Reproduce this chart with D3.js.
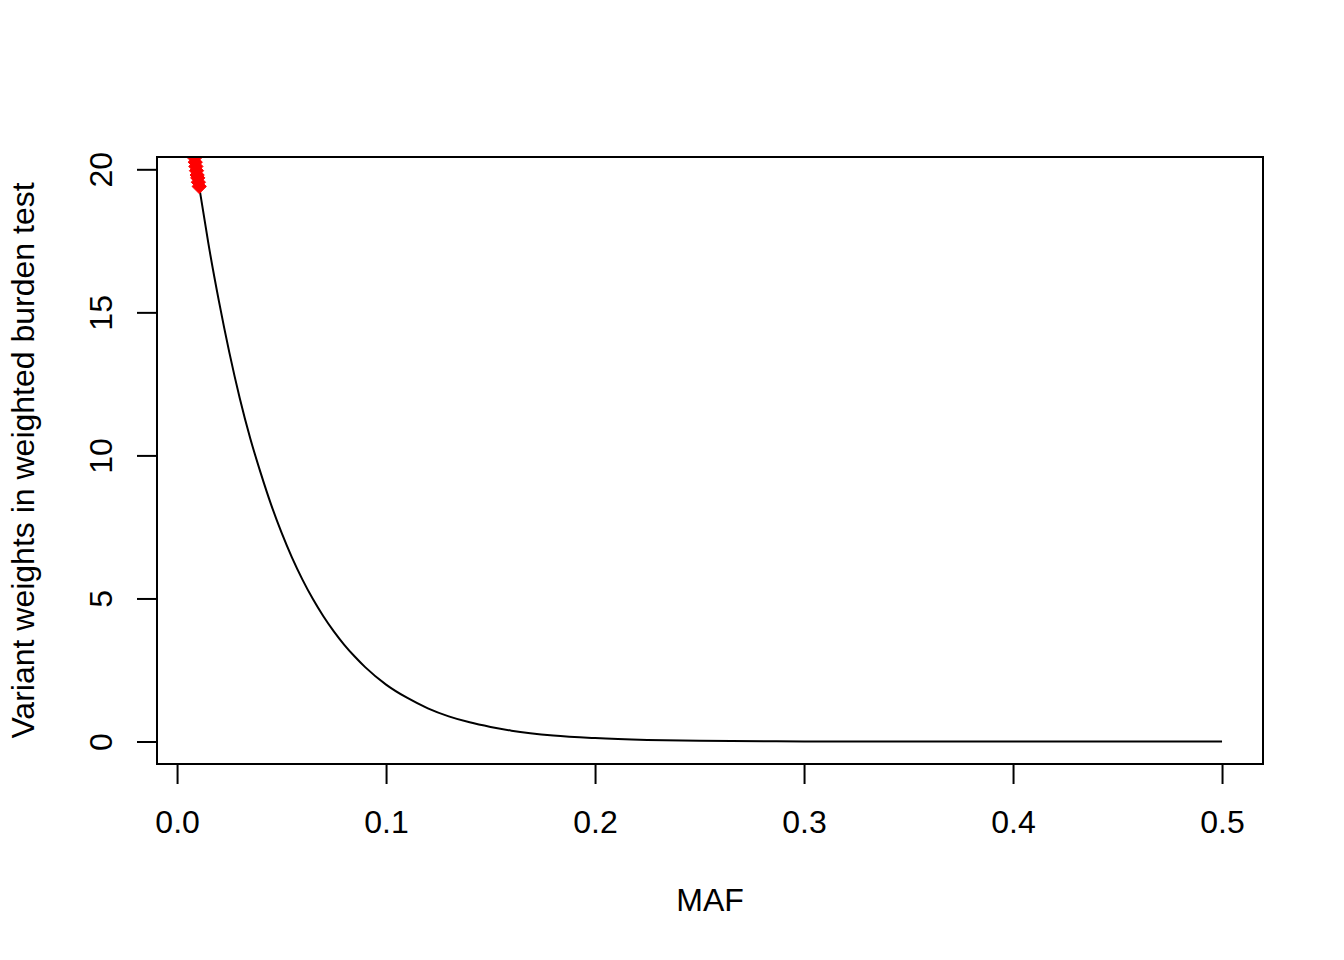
<!DOCTYPE html>
<html>
<head>
<meta charset="utf-8">
<script src="https://cdn.jsdelivr.net/npm/d3@7"></script>
<style>
  html, body { margin: 0; padding: 0; background: #ffffff; }
  svg { display: block; }
  text { font-family: "Liberation Sans", Arial, Helvetica, sans-serif; fill: #000; }
</style>
</head>
<body>
<script>
// Curve: variant weight vs MAF
const curveMAF = [0.011, 0.015, 0.020, 0.025, 0.030, 0.035, 0.040, 0.045, 0.050, 0.055,
                  0.060, 0.065, 0.070, 0.075, 0.080, 0.085, 0.090, 0.100, 0.110, 0.120,
                  0.130, 0.140, 0.150, 0.160, 0.180, 0.200, 0.225, 0.250, 0.300, 0.350,
                  0.400, 0.450, 0.500];
const curveWeight = [19.2, 17.4, 15.4, 13.6, 12.0, 10.6, 9.39, 8.28, 7.30, 6.43,
                     5.66, 4.98, 4.38, 3.85, 3.38, 2.97, 2.60, 1.99, 1.53, 1.16,
                     0.88, 0.67, 0.51, 0.38, 0.21, 0.12, 0.056, 0.025, 0.004, 0.0007,
                     0.0, 0.0, 0.0];
// Highlighted variants (red diamonds)
const pointMAF = [0.0078, 0.0081, 0.0084, 0.0087, 0.0090, 0.0093, 0.0096, 0.0099, 0.0102, 0.0106];
const pointWeight = [20.7, 20.55, 20.4, 20.25, 20.1, 19.95, 19.8, 19.7, 19.55, 19.4];
// Axis ticks
const xTicks = [0.0, 0.1, 0.2, 0.3, 0.4, 0.5];
const xTickLabels = ["0.0", "0.1", "0.2", "0.3", "0.4", "0.5"];
const yTicks = [0, 5, 10, 15, 20];
const yTickLabels = ["0", "5", "10", "15", "20"];
const xTitle = "MAF";
const yTitle = "Variant weights in weighted burden test";

const W = 1344, H = 960;
const plot = { left: 157, right: 1263, top: 157, bottom: 764 };

const svg = d3.select("body").append("svg").attr("width", W).attr("height", H);

const x = d3.scaleLinear().domain([-0.0096, 0.5196]).range([plot.left, plot.right]);
const y = d3.scaleLinear().domain([-0.786, 20.43]).range([plot.bottom, plot.top]);

svg.append("defs").append("clipPath").attr("id", "clip")
  .append("rect")
  .attr("x", plot.left).attr("y", plot.top)
  .attr("width", plot.right - plot.left).attr("height", plot.bottom - plot.top);

// Curve
const lineGen = d3.line()
  .x((d, i) => x(curveMAF[i]))
  .y(d => y(d))
  .curve(d3.curveMonotoneX);
svg.append("g").attr("clip-path", "url(#clip)")
  .append("path")
  .attr("d", lineGen(curveWeight))
  .attr("fill", "none").attr("stroke", "#000").attr("stroke-width", 2);

// Red diamonds
const sym = d3.symbol().type(d3.symbolDiamond2).size(130);
svg.append("g").attr("clip-path", "url(#clip)")
  .selectAll("path.pt").data(pointWeight).enter().append("path")
  .attr("class", "pt")
  .attr("transform", (d, i) => `translate(${x(pointMAF[i])},${y(d)})`)
  .attr("d", sym)
  .attr("fill", "#ff0000").attr("stroke", "#ff0000").attr("stroke-width", 1);

// Box
svg.append("rect")
  .attr("x", plot.left).attr("y", plot.top)
  .attr("width", plot.right - plot.left).attr("height", plot.bottom - plot.top)
  .attr("fill", "none").attr("stroke", "#000").attr("stroke-width", 2);

// X axis
const xAxis = d3.axisBottom(x).tickValues(xTicks)
  .tickFormat((d, i) => xTickLabels[i]).tickSize(20).tickPadding(0);
const gx = svg.append("g").attr("transform", `translate(0,${plot.bottom})`).call(xAxis);
gx.select(".domain").attr("d", `M${x(xTicks[0])},0H${x(xTicks[xTicks.length - 1])}`)
  .attr("stroke", "#000").attr("stroke-width", 2);
gx.selectAll(".tick line").attr("stroke", "#000").attr("stroke-width", 2);
gx.selectAll(".tick text").attr("y", 69).attr("dy", null)
  .style("font-size", "32px").attr("fill", "#000");

// Y axis
const yAxis = d3.axisLeft(y).tickValues(yTicks)
  .tickFormat((d, i) => yTickLabels[i]).tickSize(20).tickPadding(0);
const gy = svg.append("g").attr("transform", `translate(${plot.left},0)`).call(yAxis);
gy.select(".domain").attr("d", `M0,${y(yTicks[0])}V${y(yTicks[yTicks.length - 1])}`)
  .attr("stroke", "#000").attr("stroke-width", 2);
gy.selectAll(".tick line").attr("stroke", "#000").attr("stroke-width", 2);
gy.selectAll(".tick text")
  .attr("x", null).attr("dy", null)
  .attr("text-anchor", "middle")
  .attr("transform", `translate(-45,0) rotate(-90)`)
  .attr("y", 0)
  .style("font-size", "32px").attr("fill", "#000");

// Titles
svg.append("text")
  .attr("x", (plot.left + plot.right) / 2).attr("y", 911)
  .attr("text-anchor", "middle").style("font-size", "32px")
  .text(xTitle);
svg.append("text")
  .attr("transform", `translate(34,${(plot.top + plot.bottom) / 2}) rotate(-90)`)
  .attr("text-anchor", "middle").style("font-size", "32px")
  .text(yTitle);
</script>
</body>
</html>
